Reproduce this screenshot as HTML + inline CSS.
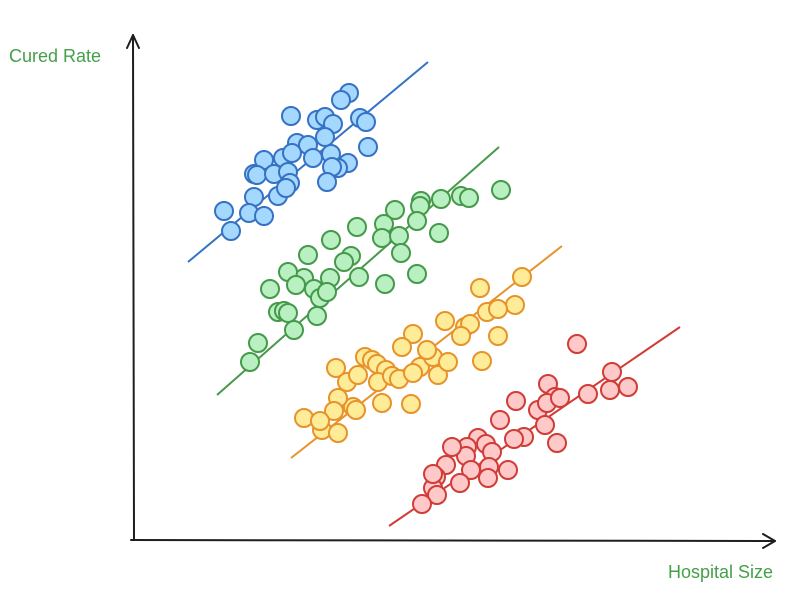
<!DOCTYPE html>
<html><head><meta charset="utf-8"><style>
html,body{margin:0;padding:0;background:#fff;}
svg{display:block;}
</style></head><body>
<svg id="chart" width="802" height="613" viewBox="0 0 802 613">
  <g stroke="#1e1e1e" stroke-width="2" fill="none" stroke-linecap="round" stroke-linejoin="round">
    <path d="M131 540 L775 541"/>
    <path d="M763 534 L775 541 L763 548"/>
    <path d="M134 539 L133 35"/>
    <path d="M127 48 L133 35 L139 48"/>
  </g>
  <text x="9" y="62" font-family="Liberation Sans, sans-serif" font-size="18" fill="#44a049">Cured Rate</text>
  <text x="773" y="578" text-anchor="end" font-family="Liberation Sans, sans-serif" font-size="18" fill="#44a049">Hospital Size</text>
  <g id="marks"></g>
</svg>
<script>
const blueX=[43.8,42.2,32.2,37.4,39,40.6,46,47.2,33.4,35.6,39,47.6,26.8,30.6,32.4,36.6,40.2,43.6,41.6,24.8,25.4,28.8,31.6,40.4,32,39.4,24.8,23.8,18.8,29.6,26.8,20.2,31.2];
const blueY=[89.4,88,84.8,84,84.6,83.2,84.4,83.6,79.4,79,80.6,78.6,76,76.4,77.4,76.4,77.2,75.4,74.4,73.2,73,73.2,73.6,74.6,71.4,71.6,68.6,65.4,65.8,68.8,64.8,61.8,70.4];
const greenX=[74.2,66.2,67.8,62.2,58.2,58,53,50.8,45.4,35.6,40.2,44.2,50.4,53.8,54.2,57.4,61.8,57.4,51,45.8,42.8,40,34.8,31.6,28,29.6,30.8,31.6,33.2,36.8,38,39.4,32.8,37.4,25.6,24];
const greenY=[70,68.8,68.4,68.2,67.8,66.8,66,63.2,62.6,57,60,56.8,60.4,60.8,57.4,63.8,61.4,53.2,51.2,52.6,55.6,52.4,52.4,53.6,50.2,45.6,45.8,45.4,51,50.2,48.4,49.6,42,44.8,39.4,35.6];
const yellowX=[78.4,70,77,71.4,73.6,67,68,63,73.6,66.2,70.4,56.6,54.4,47,48.4,49.4,41.2,43.4,45.6,51.2,58,60.6,61.6,63.6,49.6,52.4,53.8,56.6,59.4,56.2,50.4,34.8,38.4,41.6,44.6,41.6,40.8,45.2,38];
const yellowY=[52.6,50.4,47,45.6,46.2,42.6,43.2,43.8,40.8,40.8,35.8,41.2,38.6,36.6,36,35.2,34.4,31.6,33,34,34.6,36.6,33,35.6,31.6,32.8,32.2,33.4,38,27.2,27.4,24.4,22,21.4,26.6,28.4,25.8,26,23.8];
const redX=[89.4,96.4,99.6,96,91.6,83.6,85,81.6,83.4,83,77.2,78.8,76.8,74,69.6,71.2,72.4,67.4,67.2,64.4,63.2,68.2,71.8,75.6,71.6,66,61.2,60.6,61.4,58.4,85.4,86,60.6];
const redY=[39.2,33.6,30.6,30,29.2,31.2,28.6,26,27.4,23,27.8,20.6,20.2,24,20.4,19.2,17.6,18.6,16.8,18.6,15,14,14.6,14,12.4,11.4,12.6,10.4,9,7.2,19.4,28.4,13.2];
const lineBlueX=[11.6,59.6], lineBlueY=[55.6,95.6];
const lineGreenX=[17.4,73.8], lineGreenY=[29,78.6];
const lineYellowX=[32.2,86.4], lineYellowY=[16.4,58.8];
const lineRedX=[51.8,110], lineRedY=[2.8,42.6];

const sx=v=>130+v*5;
const sy=v=>540-v*5;
const NS='http://www.w3.org/2000/svg';
const g=document.getElementById('marks');
const series=[
 {n:'blue',x:blueX,y:blueY,lx:lineBlueX,ly:lineBlueY,fill:'#a5d8ff',stroke:'#3672c4'},
 {n:'green',x:greenX,y:greenY,lx:lineGreenX,ly:lineGreenY,fill:'#b9f0c1',stroke:'#45994a'},
 {n:'yellow',x:yellowX,y:yellowY,lx:lineYellowX,ly:lineYellowY,fill:'#ffec99',stroke:'#e8922a'},
 {n:'red',x:redX,y:redY,lx:lineRedX,ly:lineRedY,fill:'#ffc9c9',stroke:'#d03c37'}
];
series.forEach(s=>{
  const grp=document.createElementNS(NS,'g');
  
  
  g.appendChild(grp);
  const ln=document.createElementNS(NS,'line');
  ln.setAttribute('x1',sx(s.lx[0]));ln.setAttribute('y1',sy(s.ly[0]));
  ln.setAttribute('x2',sx(s.lx[1]));ln.setAttribute('y2',sy(s.ly[1]));
  ln.setAttribute('stroke',s.stroke);ln.setAttribute('stroke-width','2');
  
  
  grp.appendChild(ln);
  for(let i=0;i<s.x.length;i++){
    const c=document.createElementNS(NS,'circle');
    c.setAttribute('cx',sx(s.x[i]));c.setAttribute('cy',sy(s.y[i]));
    c.setAttribute('r','9');c.setAttribute('fill',s.fill);
    c.setAttribute('stroke',s.stroke);c.setAttribute('stroke-width','2');
    
    
    grp.appendChild(c);
  }
});
</script>
</body></html>
